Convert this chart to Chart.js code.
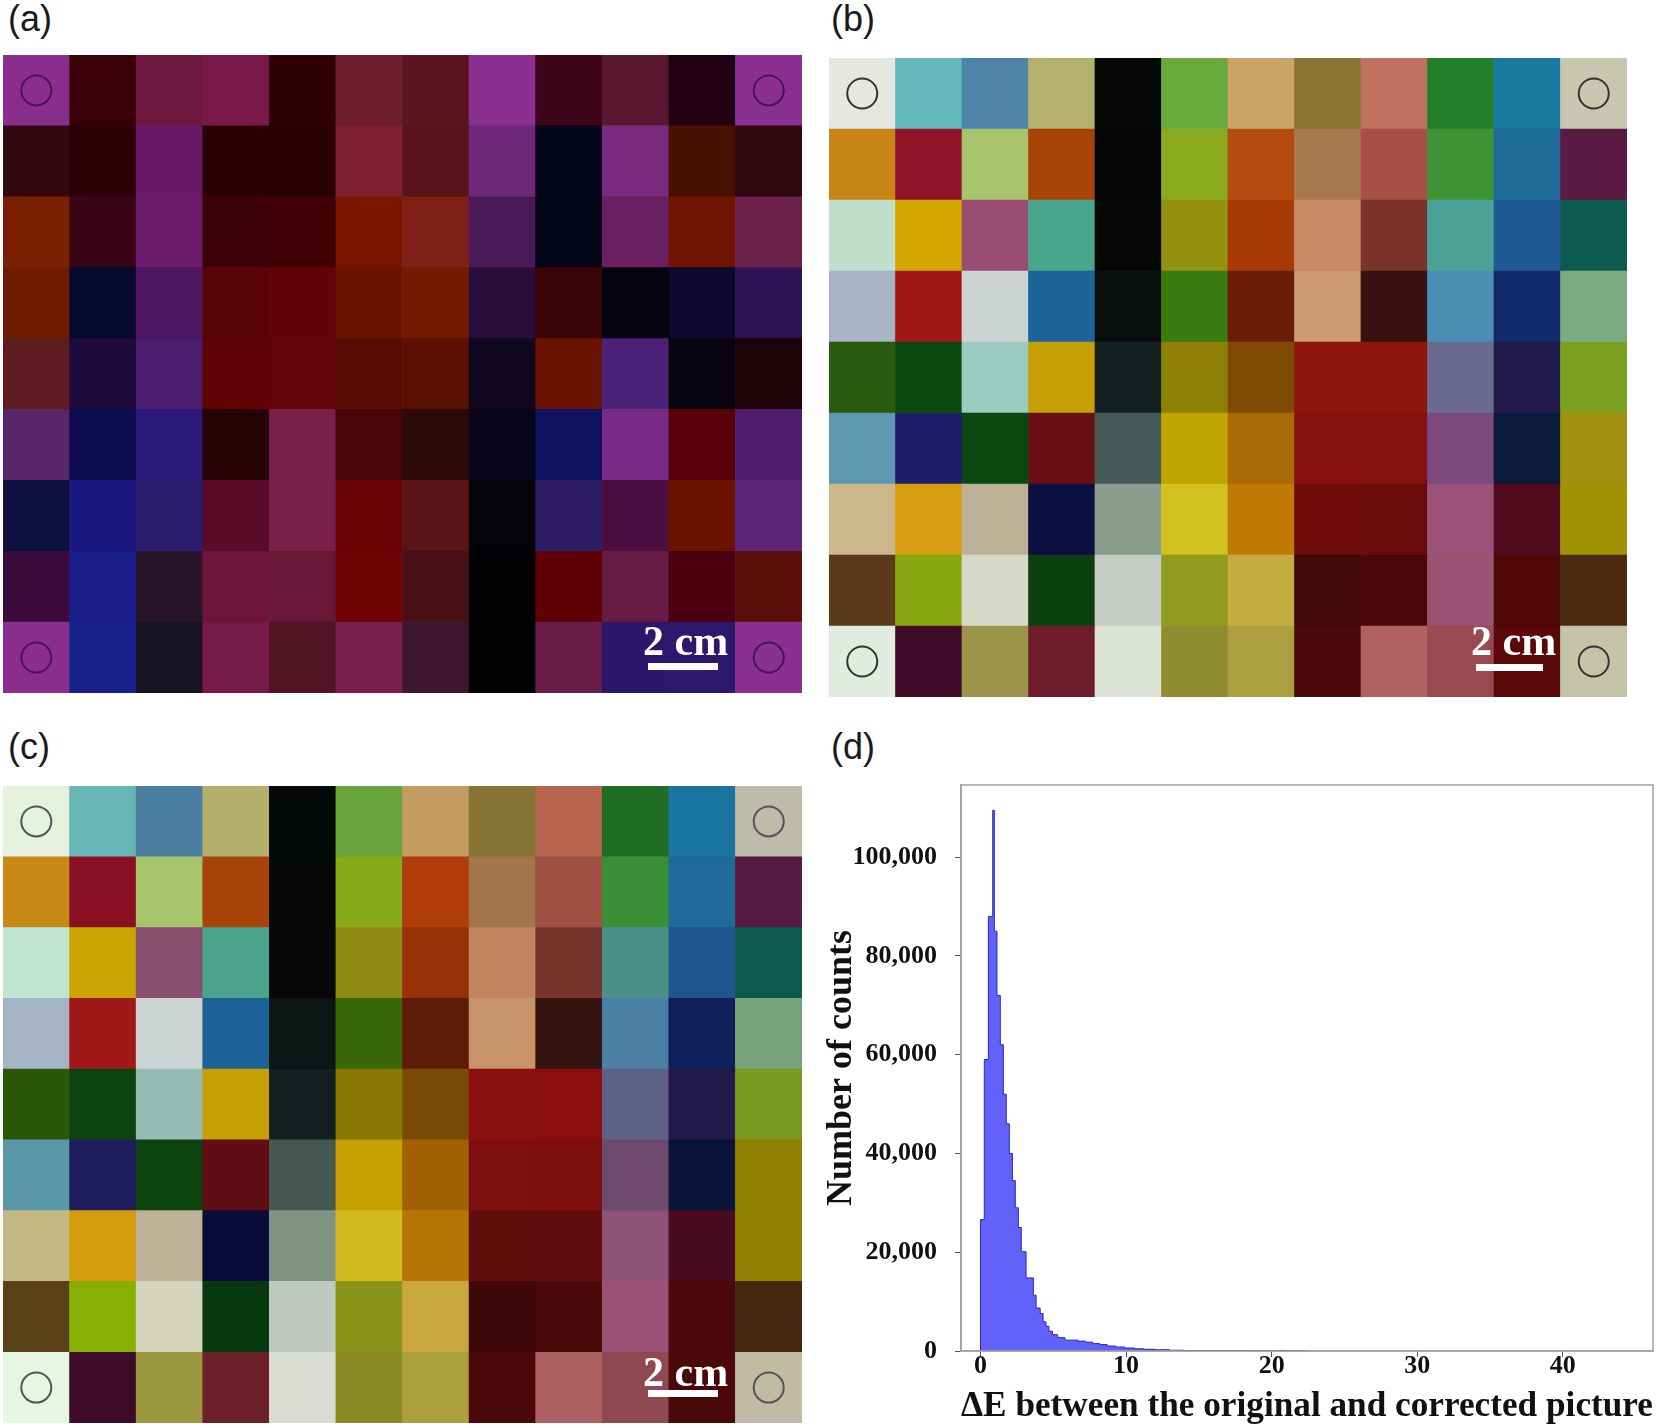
<!DOCTYPE html>
<html>
<head>
<meta charset="utf-8">
<script src="https://cdn.jsdelivr.net/npm/chart.js@4.4.0/dist/chart.umd.min.js"></script>
<style>
  body { margin: 0; width: 1665px; height: 1428px; background: #fff; position: relative; overflow: hidden; }
  canvas { position: absolute; }
  .tag { position: absolute; font-family: 'Liberation Sans', Arial, sans-serif; font-size: 36px; line-height: 1; color: #1a1a1a; }
  .scale { position: absolute; z-index: 5; color: #fff; font-family: 'Liberation Serif', 'Times New Roman', serif; font-weight: bold; font-size: 42px; line-height: 1; white-space: nowrap; }
  .scalebar { position: absolute; z-index: 5; background: #fff; }
</style>
</head>
<body>
<div class="tag" style="left:8px;top:1px">(a)</div>
<div class="tag" style="left:831px;top:1px">(b)</div>
<div class="tag" style="left:8px;top:729px">(c)</div>
<div class="tag" style="left:831px;top:729px">(d)</div>

<canvas id="gridA" width="799" height="638" style="left:3px;top:55px"></canvas>
<canvas id="ringA" width="799" height="638" style="left:3px;top:55px"></canvas>
<canvas id="gridB" width="798" height="639" style="left:829px;top:58px"></canvas>
<canvas id="ringB" width="798" height="639" style="left:829px;top:58px"></canvas>
<canvas id="gridC" width="799" height="637" style="left:3px;top:786px"></canvas>
<canvas id="ringC" width="799" height="637" style="left:3px;top:786px"></canvas>
<canvas id="hist" width="845" height="653" style="left:820px;top:775px"></canvas>

<!-- 2 cm scale bars -->
<div class="scale" style="left:643px;top:620px">2 cm</div>
<div class="scalebar" style="left:648px;top:663px;width:70px;height:7px"></div>
<div class="scale" style="left:1471px;top:620px">2 cm</div>
<div class="scalebar" style="left:1476px;top:664px;width:67px;height:7px"></div>
<div class="scale" style="left:643px;top:1351px">2 cm</div>
<div class="scalebar" style="left:648px;top:1390px;width:70px;height:7px"></div>

<script>
// ---- colour charts: 12 columns x 9 rows, rows listed top to bottom ----
const columns = ["1", "2", "3", "4", "5", "6", "7", "8", "9", "10", "11", "12"];
const cellHeights = [1, 1, 1, 1, 1, 1, 1, 1, 1, 1, 1, 1];
const cornerCells = [{ x: 0, y: 8.5 }, { x: 11, y: 8.5 }, { x: 0, y: 0.5 }, { x: 11, y: 0.5 }];

// (a) original picture
const colorsA = [
  ["#8a2e8e", "#3a0008", "#6e1840", "#7a1848", "#2e0008", "#6e1c30", "#5a1420", "#8a3090", "#3e0418", "#5a1830", "#200010", "#8a3090"],
  ["#320812", "#2e0008", "#6a1868", "#2a0004", "#280004", "#7e2030", "#581418", "#6e2878", "#04041a", "#7a2a7e", "#4a1004", "#300810"],
  ["#7a2000", "#3a0418", "#6a1a6a", "#3e0008", "#400004", "#7a1600", "#7e2018", "#4a1a58", "#040418", "#6a2060", "#6e1400", "#6a2048"],
  ["#701c00", "#060a2e", "#4e1660", "#5a0408", "#600408", "#6a1400", "#741a00", "#2a0e3a", "#3a0408", "#04040e", "#0c0830", "#2c1454"],
  ["#5e1c20", "#1c0a3c", "#4a1c6e", "#600408", "#620408", "#5a0c04", "#5c1004", "#10061e", "#6a1400", "#4a2078", "#080410", "#1c0408"],
  ["#5a2468", "#0e0c50", "#2c1a7a", "#260408", "#7a2048", "#4a0408", "#2c0a08", "#08061a", "#101060", "#782a86", "#5a0008", "#4e1e6c"],
  ["#0e1040", "#18187e", "#2c1c6e", "#580c28", "#7a2048", "#6a0404", "#5a1418", "#040408", "#2c1c64", "#4a0e40", "#6a1400", "#5e2478"],
  ["#3a0a3a", "#1a1e8a", "#281428", "#6e1438", "#6a1838", "#6e0404", "#4a1018", "#020204", "#5e0004", "#681c44", "#4a0010", "#5a1008"],
  ["#8a2e8e", "#18208e", "#181424", "#781a48", "#501424", "#7a1e4c", "#3e1630", "#020204", "#6a1c48", "#2a186c", "#2c186c", "#8a3090"]
];

// (b) reference chart
const colorsB = [
  ["#e4e8e0", "#62b8b8", "#4e84a8", "#b4b06e", "#060806", "#6aaa3c", "#c8a466", "#8a7434", "#c0705e", "#22802a", "#1a7aa0", "#c8c8b0"],
  ["#c88414", "#901428", "#a8c46a", "#a84408", "#040604", "#88aa1c", "#b44a0e", "#a87850", "#a85048", "#3e9434", "#1e6c98", "#5a1a44"],
  ["#c0e0cc", "#d4a800", "#9a4e74", "#4aa68a", "#060806", "#949010", "#a83a08", "#c88a62", "#7a342c", "#4aa296", "#205a94", "#0e5a4e"],
  ["#a8b4c4", "#a01818", "#ccd4d0", "#1c6498", "#0a1010", "#3a7a0e", "#6a1c08", "#cc9a6e", "#3a1010", "#4a8eb4", "#102a6a", "#7aaa82"],
  ["#2a5a0e", "#0a4a10", "#9acac0", "#c4a004", "#142020", "#8e8004", "#7e4a04", "#8e1410", "#8e1410", "#6a6a8e", "#221a4a", "#7aa020"],
  ["#5e98b0", "#1e1e6a", "#0a4a10", "#6a1014", "#445a56", "#c0a400", "#a86a04", "#861010", "#841010", "#7a4a7a", "#0a1a3a", "#a09010"],
  ["#cab88a", "#d89c10", "#bcb096", "#0c1040", "#8a9c8c", "#d0c020", "#c07a04", "#6e0c0c", "#6a0c0c", "#9a5278", "#500a1e", "#a09004"],
  ["#5a3a1a", "#8aa610", "#d8d8c8", "#0a4010", "#c4ccc4", "#909a1e", "#c4ac40", "#420808", "#4a0808", "#9a5272", "#500808", "#4a2a10"],
  ["#e0ece0", "#3e0c2a", "#9c9448", "#6e1c2a", "#dce2d4", "#8e8c2e", "#aca040", "#4a0808", "#b06060", "#9a4a50", "#5a0808", "#c4c4a8"]
];

// (c) corrected picture
const colorsC = [
  ["#e6f2de", "#66b6b4", "#4a7ea0", "#b4b06c", "#040806", "#68a43a", "#c49c60", "#867434", "#b8644e", "#206e26", "#1a76a0", "#bcbca8"],
  ["#c88a14", "#8a1024", "#a8c46a", "#a84408", "#060806", "#86aa1a", "#b03c0c", "#a4744a", "#a05042", "#3a8e36", "#1e6a98", "#561a44"],
  ["#c0e4d2", "#caa400", "#8a4e6e", "#4aa48c", "#060806", "#8e8a14", "#983008", "#c08460", "#7a342e", "#4a9088", "#205690", "#0e5a4e"],
  ["#a4b4c4", "#a01818", "#ccd4d4", "#1c6098", "#0c1414", "#3a6808", "#5e1c08", "#c8926a", "#341410", "#4a80a4", "#101e5a", "#78a27a"],
  ["#2a5808", "#0c420e", "#94bcb4", "#c4a004", "#142020", "#8a7604", "#7a4a04", "#8a1010", "#8a0e0e", "#5e6086", "#22184a", "#789a20"],
  ["#5a98a8", "#1e1e5e", "#0c420e", "#600e14", "#445850", "#c4a000", "#a06004", "#801010", "#7e0e0e", "#6e4a6e", "#0a1438", "#908004"],
  ["#c4b884", "#d49c0c", "#bcb096", "#0c0c3a", "#809484", "#d0bc20", "#b87404", "#620c0c", "#600c0c", "#8e5278", "#4a0a20", "#908004"],
  ["#5a4218", "#88b004", "#d4d4bc", "#083810", "#c0c8c0", "#8a9418", "#c8a83c", "#3e0808", "#4a0a0a", "#9a5274", "#4a0808", "#42280e"],
  ["#e6f6e2", "#3e0c28", "#9c9840", "#6c2028", "#d8dcd2", "#8a8a24", "#aca03c", "#4a0808", "#ac6060", "#8e4a50", "#4a0808", "#c0bca4"]
];

// ---- (d) histogram of ΔE ----
const binEdges = [0, 0.26, 0.54, 0.84, 0.95, 1.13, 1.36, 1.57, 1.77, 1.98, 2.19, 2.39, 2.6, 2.8, 3.13, 3.63,
  3.82, 4.1, 4.3, 4.5, 4.7, 4.95, 5.3, 5.8, 6.7, 7.2, 7.7, 8.2, 8.7, 9.3, 9.9, 10.6, 11.2, 12, 13, 14, 16,
  18, 20, 20.5, 21, 21.5, 22, 22.5];
const binCounts = [26600, 59000, 88000, 109500, 85000, 72000, 62000, 52000, 46000, 40000, 34500, 29000,
  25000, 20100, 14800, 11300, 8700, 7600, 5900, 5000, 4000, 3300, 2700, 2200, 2000, 1800, 1500, 1300, 1000,
  800, 600, 450, 350, 250, 150, 100, 80, 50, 0, 120, 40, 80, 0];
const xTickValues = [0, 10, 20, 30, 40];
const yTickValues = [0, 20000, 40000, 60000, 80000, 100000];

const serif = "'Liberation Serif', 'Times New Roman', serif";
const quiet = { legend: { display: false }, tooltip: { enabled: false } };

function makeGrid(id, colors) {
  // stacked bars are drawn bottom-up, so the bottom row goes first
  const datasets = colors.slice().reverse().map((rowColors) => ({
    data: cellHeights,
    backgroundColor: rowColors,
    borderWidth: 0,
  }));
  new Chart(document.getElementById(id), {
    type: "bar",
    data: { labels: columns, datasets },
    options: {
      responsive: false,
      animation: false,
      devicePixelRatio: 1,
      layout: { padding: 0, autoPadding: false },
      datasets: { bar: { categoryPercentage: 1, barPercentage: 1 } },
      plugins: quiet,
      scales: {
        x: { stacked: true, display: false },
        y: { stacked: true, display: false, min: 0, max: 9 },
      },
    },
  });
}

function makeRings(id, ringColor) {
  new Chart(document.getElementById(id), {
    type: "scatter",
    data: {
      datasets: [{
        data: cornerCells,
        pointRadius: 15,
        pointBorderWidth: 2,
        pointBackgroundColor: "rgba(0,0,0,0)",
        pointBorderColor: ringColor,
      }],
    },
    options: {
      responsive: false,
      animation: false,
      devicePixelRatio: 1,
      layout: { padding: 0, autoPadding: false },
      plugins: quiet,
      scales: {
        x: { type: "linear", display: false, min: -0.5, max: 11.5 },
        y: { type: "linear", display: false, min: 0, max: 9 },
      },
    },
  });
}

makeGrid("gridA", colorsA);
makeRings("ringA", "#4a1454");
makeGrid("gridB", colorsB);
makeRings("ringB", "#333333");
makeGrid("gridC", colorsC);
makeRings("ringC", "#555555");

// histogram drawn as a filled step line
const histPoints = [{ x: binEdges[0], y: 0 }];
binCounts.forEach((c, i) => histPoints.push({ x: binEdges[i], y: c }));
histPoints.push({ x: binEdges[binEdges.length - 1], y: 0 });

const plotBox = {
  id: "plotBox",
  afterDraw(chart) {
    const { ctx, chartArea: a } = chart;
    ctx.save();
    ctx.strokeStyle = "#a0a0a0";
    ctx.lineWidth = 1.5;
    ctx.strokeRect(a.left, a.top, a.right - a.left, a.bottom - a.top);
    ctx.restore();
  },
};

new Chart(document.getElementById("hist"), {
  type: "line",
  data: {
    datasets: [
      {
        data: histPoints,
        stepped: "before",
        fill: "origin",
        backgroundColor: "rgb(98, 98, 248)",
        borderColor: "rgb(40, 40, 200)",
        borderWidth: 1,
        pointRadius: 0,
      },
    ],
  },
  options: {
    responsive: false,
    animation: false,
    devicePixelRatio: 1,
    layout: { padding: { top: 10, right: 12, left: 0, bottom: 0 }, autoPadding: false },
    plugins: quiet,
    scales: {
      x: {
        type: "linear",
        min: -1.34,
        max: 46.2,
        afterBuildTicks: (s) => { s.ticks = xTickValues.map((v) => ({ value: v })); },
        ticks: {
          color: "#111",
          padding: -6,
          font: { family: serif, size: 26, weight: "bold" },
        },
        grid: { drawOnChartArea: false, tickLength: 6, color: "#555" },
        border: { color: "#a0a0a0", width: 1.5 },
        title: {
          display: true,
          text: "ΔE between the original and corrected picture",
          color: "#111",
          padding: 0,
          font: { family: serif, size: 36, weight: "bold" },
        },
        afterFit: (s) => { s.height = 77; s.paddingLeft = 0; s.paddingRight = 0; },
      },
      y: {
        type: "linear",
        min: 0,
        max: 114600,
        afterBuildTicks: (s) => { s.ticks = yTickValues.map((v) => ({ value: v })); },
        ticks: {
          color: "#111",
          padding: 18,
          font: { family: serif, size: 26, weight: "bold" },
          callback: (v) => v.toLocaleString("en-US"),
        },
        grid: { drawOnChartArea: false, tickLength: 6, color: "#555" },
        border: { color: "#a0a0a0", width: 1.5 },
        title: {
          display: true,
          text: "Number of counts",
          color: "#111",
          padding: 0,
          font: { family: serif, size: 36, weight: "bold" },
        },
        afterFit: (s) => { s.width = 141; s.paddingTop = 0; s.paddingBottom = 0; },
      },
    },
  },
  plugins: [plotBox],
});
</script>
</body>
</html>
